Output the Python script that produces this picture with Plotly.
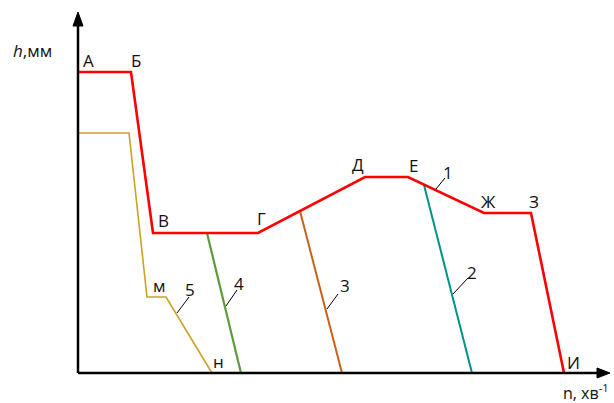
import plotly.graph_objects as go

# Characteristic curve 1 (points А..И) and auxiliary curves 2-5.
# Coordinates are in schematic units: n to the right, h upward.
curve1_n = [0, 53, 75, 180, 287, 330, 406, 453, 486]
curve1_h = [301, 301, 140, 140, 196, 196, 160, 160, 0]
curve1_pts = ["А", "Б", "В", "Г", "Д", "Е", "Ж", "З", "И"]

curve5_n = [0, 51, 69, 88, 134]
curve5_h = [240, 240, 76, 76, 0]

curve4_n = [129, 163]
curve4_h = [140, 0]

curve3_n = [222, 264]
curve3_h = [162, 0]

curve2_n = [346, 394]
curve2_h = [188, 0]

# curve number labels: (text, label n, label h, leader start n/h, leader end n/h)
num_labels = [
    ("1", 370, 201, 358, 184, 367, 195),
    ("2", 394, 101, 375, 79, 390, 95),
    ("3", 267, 88, 249, 64, 260, 79),
    ("4", 161, 90, 148, 67, 159, 83),
    ("5", 112, 84, 99, 60, 111, 76),
]

# point letter labels positions (n, h) for the main curve
pt_label_pos = [(10, 313), (58, 313), (85, 153), (183, 155), (280, 209),
                (335, 208), (410, 172), (456, 172), (495, 11)]
sub_labels = [("м", 81, 88), ("н", 140, 12)]

FONT = "Open Sans"
TXT = dict(family=FONT, size=17, color="#111111")

fig = go.Figure()

def add_line(xs, ys, color, width):
    fig.add_trace(go.Scatter(x=xs, y=ys, mode="lines",
                             line=dict(color=color, width=width),
                             hoverinfo="skip", showlegend=False))

add_line(curve5_n, curve5_h, "#C9A227", 1.6)
add_line(curve4_n, curve4_h, "#5E9A3C", 2.2)
add_line(curve3_n, curve3_h, "#C8621A", 2.0)
add_line(curve2_n, curve2_h, "#00918A", 2.0)
add_line(curve1_n, curve1_h, "#FF0000", 2.6)

# leader lines for curve numbers
for txt, lx, ly, x0, y0, x1, y1 in num_labels:
    fig.add_shape(type="line", x0=x0, y0=y0, x1=x1, y1=y1,
                  line=dict(color="black", width=1))
    fig.add_annotation(x=lx, y=ly, text=txt, showarrow=False, font=TXT)

for t, (px, py) in zip(curve1_pts, pt_label_pos):
    fig.add_annotation(x=px, y=py, text=t, showarrow=False, font=TXT)
for t, px, py in sub_labels:
    fig.add_annotation(x=px, y=py, text=t, showarrow=False, font=TXT)

# axes with arrowheads
fig.add_shape(type="line", x0=0, y0=0, x1=0, y1=350,
              line=dict(color="black", width=2.5))
fig.add_shape(type="line", x0=0, y0=0, x1=520, y1=0,
              line=dict(color="black", width=2.5))
fig.add_shape(type="path", path="M -5,347 L 5,347 L 0,361 Z",
              fillcolor="black", line=dict(color="black", width=1))
fig.add_shape(type="path", path="M 519,5 L 519,-5 L 532,0 Z",
              fillcolor="black", line=dict(color="black", width=1))

fig.add_annotation(x=-46, y=323, text="<i>h</i>,мм", showarrow=False, font=TXT)
fig.add_annotation(x=508, y=-19, text="n, хв<sup>-1</sup>", showarrow=False,
                   font=dict(family=FONT, size=16, color="#111111"))

fig.update_layout(
    width=614, height=403,
    margin=dict(l=0, r=0, t=0, b=0),
    paper_bgcolor="white", plot_bgcolor="white",
    xaxis=dict(range=[-78, 536], visible=False, fixedrange=True),
    yaxis=dict(range=[-30, 373], visible=False, fixedrange=True),
)

fig.write_html("out.html")
